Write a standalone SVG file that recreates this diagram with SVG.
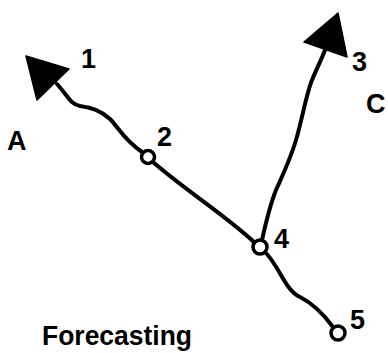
<svg xmlns="http://www.w3.org/2000/svg" width="388" height="353" viewBox="0 0 388 353">
<style>
.ln{fill:none;stroke:#000;stroke-width:4;stroke-linecap:round;stroke-linejoin:round}
.nd{fill:#fff;stroke:#000;stroke-width:3.5}
.hd{fill:#000;stroke:#000;stroke-width:1.5;stroke-linejoin:round}
.t{font-family:"Liberation Sans",Arial,sans-serif;font-weight:bold;font-size:27px;fill:#000}
</style>
<rect width="388" height="353" fill="#fff"/>
<g id="connectors">
<path class="ln" d="M57,84 C68,96 70,104 80,106 C92,108 100,110 110,119 C118,127 124,140 142,152"/>
<path class="ln" d="M153,162 C185,190 225,215 254,242"/>
<path class="ln" d="M266,253 C280,268 285,290 300,297 C312,303 322,312 333,327"/>
<path class="ln" d="M262,240 C266,222 270,205 276,190 C285,170 290,160 296,140 C302,120 306,95 312,80 C318,66 322,58 325,50"/>
<polygon class="hd" points="26,56 69,69 37,100"/>
<polygon class="hd" points="338,13 304,42 347,57"/>
</g>
<g id="node1"><text class="t" x="81" y="68">1</text></g>
<g id="node2"><circle class="nd" cx="148" cy="157" r="6.5"/><text class="t" x="157" y="146">2</text></g>
<g id="node3"><text class="t" x="352" y="71">3</text></g>
<g id="node4"><circle class="nd" cx="260" cy="247" r="7"/><text class="t" x="274" y="248">4</text></g>
<g id="node5"><circle class="nd" cx="338" cy="333" r="7"/><text class="t" x="350" y="329">5</text></g>
<g id="labels">
<text class="t" x="7" y="150" font-size="28">A</text>
<text class="t" x="366" y="113" font-size="28">C</text>
<text class="t" x="42" y="345" font-size="28" textLength="150" lengthAdjust="spacingAndGlyphs">Forecasting</text>
</g>
</svg>
